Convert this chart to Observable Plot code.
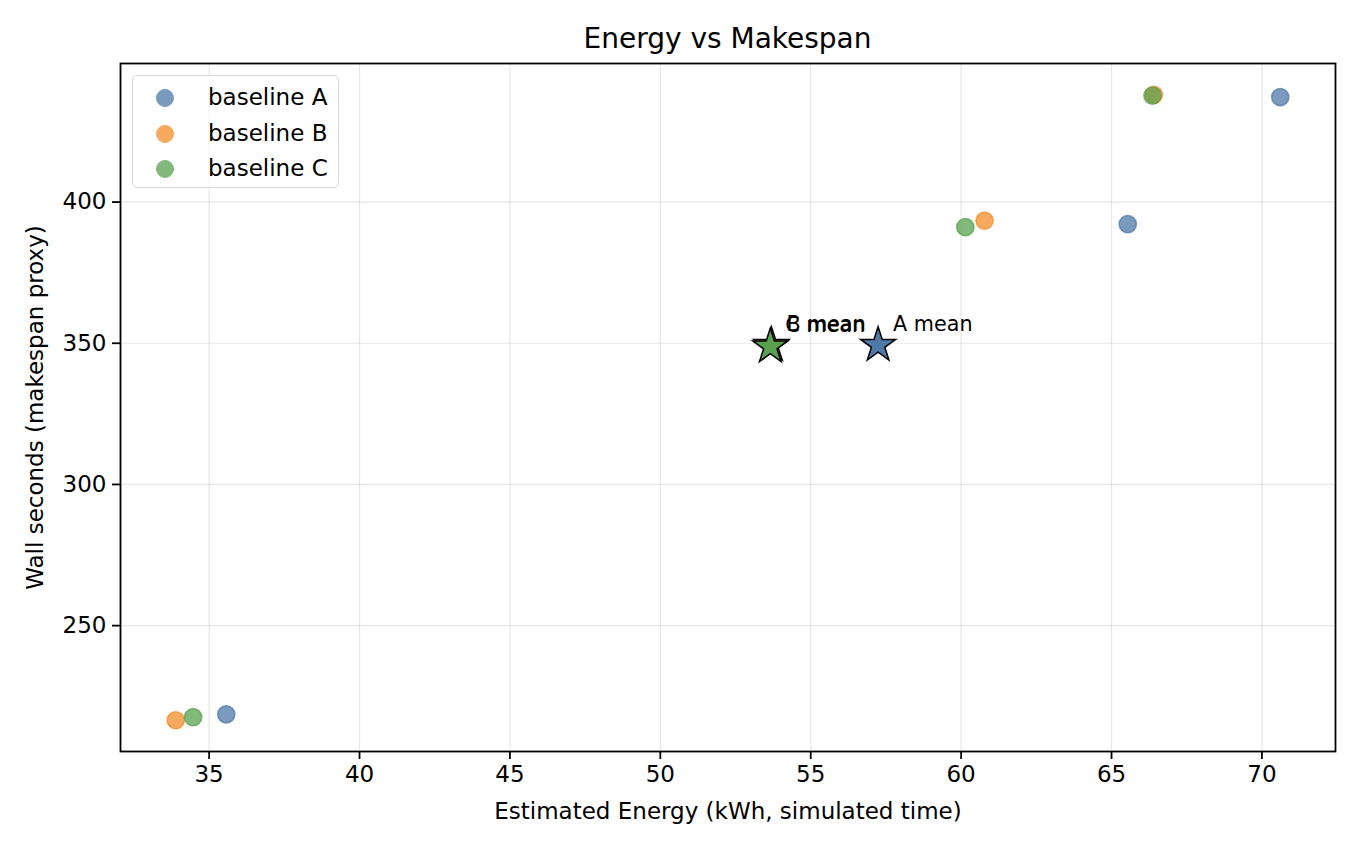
<!DOCTYPE html>
<html>
<head>
<meta charset="utf-8">
<script src="https://cdn.jsdelivr.net/npm/d3@7"></script>
<script src="https://cdn.jsdelivr.net/npm/@observablehq/plot@0.6"></script>
<style>
  html, body { margin: 0; padding: 0; background: #fff; }
  body { width: 1360px; height: 850px; position: relative; font-family: "DejaVu Sans", sans-serif; color: #000; }
  #title { height: 56px; box-sizing: border-box; padding-top: 25px; line-height: 28px; font-size: 28px; text-align: center; width: 1360px; padding-left: 95px; }
  #legend { position: absolute; left: 132px; top: 75px; width: 207px; height: 113px; box-sizing: border-box;
            border: 1.5px solid #d6d6d6; border-radius: 5px; background: rgba(255,255,255,0.8); }
  .item { position: absolute; left: 0; height: 30px; line-height: 30px; font-size: 23px; white-space: nowrap; }
  .sw { position: absolute; left: 23px; top: 6px; width: 16px; height: 16px; border-radius: 50%; border: 1.5px solid; }
  .lab { position: absolute; left: 75px; top: -1px; }
</style>
</head>
<body>
<div id="title">Energy vs Makespan</div>
<div id="chart"></div>
<div id="legend"></div>
<script>
// ---- data ----
const seriesNames = ["baseline A", "baseline B", "baseline C"];
const seriesColors = ["#4e79a7", "#f28e2b", "#59a14f"];
const meanLabels = ["A mean", "B mean", "C mean"];
const energyA = [35.57, 65.54, 70.61];
const wallA   = [218.6, 392.2, 437.2];
const energyB = [33.89, 60.78, 66.41];
const wallB   = [216.5, 393.4, 438.0];
const energyC = [34.47, 60.14, 66.36];
const wallC   = [217.6, 391.1, 437.7];
const xTicks = [35, 40, 45, 50, 55, 60, 65, 70];
const yTicks = [250, 300, 350, 400];

// ---- build tables ----
const energies = [energyA, energyB, energyC];
const walls = [wallA, wallB, wallC];
const points = [];
seriesNames.forEach((s, i) => energies[i].forEach((e, j) => points.push({series: s, energy: e, wall: walls[i][j]})));
const means = seriesNames.map((s, i) => ({
  series: s, label: meanLabels[i],
  energy: d3.mean(energies[i]), wall: d3.mean(walls[i])
}));
const pad = (ext) => { const r = ext[1] - ext[0]; return [ext[0] - 0.05 * r, ext[1] + 0.05 * r]; };
const xDomain = pad(d3.extent(points, d => d.energy));
const yDomain = pad(d3.extent(points, d => d.wall));
const colorScale = {domain: seriesNames, range: seriesColors};

const chart = Plot.plot({
  width: 1360,
  height: 794,
  marginTop: 7,
  marginBottom: 99,
  marginLeft: 120,
  marginRight: 25,
  style: {fontFamily: "DejaVu Sans, sans-serif", fontSize: "23px", color: "black", background: "white", overflow: "visible"},
  x: {domain: xDomain},
  y: {domain: yDomain},
  color: colorScale,
  marks: [
    Plot.gridX(xTicks, {stroke: "#b0b0b0", strokeOpacity: 0.3, strokeWidth: 1.2}),
    Plot.gridY(yTicks, {stroke: "#b0b0b0", strokeOpacity: 0.3, strokeWidth: 1.2}),
    Plot.axisX({ticks: xTicks, tickSize: 8, tickPadding: 6, strokeWidth: 1.8,
      label: "Estimated Energy (kWh, simulated time)", labelAnchor: "center", labelOffset: 67, labelArrow: "none"}),
    Plot.axisY({ticks: yTicks, tickSize: 8, tickPadding: 6, strokeWidth: 1.8,
      label: "Wall seconds (makespan proxy)", labelAnchor: "center", labelOffset: 94, labelArrow: "none"}),
    Plot.dot(points, {x: "energy", y: "wall", fill: "series", stroke: "series", r: 8.6,
      fillOpacity: 0.75, strokeOpacity: 0.75, strokeWidth: 1.5}),
    Plot.dot(means, {x: "energy", y: "wall", fill: "series", symbol: "star", r: 11,
      stroke: "black", strokeWidth: 1.5}),
    Plot.text(means, {x: "energy", y: "wall", text: "label", textAnchor: "start",
      dx: 15, dy: -21, fontSize: 20.7, fill: "black"}),
    Plot.frame({stroke: "black", strokeWidth: 1.8})
  ]
});
document.getElementById("chart").appendChild(chart);

// legend
const leg = document.getElementById("legend");
seriesNames.forEach((s, i) => {
  const it = document.createElement("div");
  it.className = "item";
  it.style.top = (7 + i * 35.5) + "px";
  const sw = document.createElement("span");
  sw.className = "sw";
  sw.style.background = seriesColors[i];
  sw.style.opacity = 0.75;
  sw.style.borderColor = seriesColors[i];
  const lb = document.createElement("span");
  lb.className = "lab";
  lb.textContent = s;
  it.appendChild(sw); it.appendChild(lb);
  leg.appendChild(it);
});
</script>
</body>
</html>
